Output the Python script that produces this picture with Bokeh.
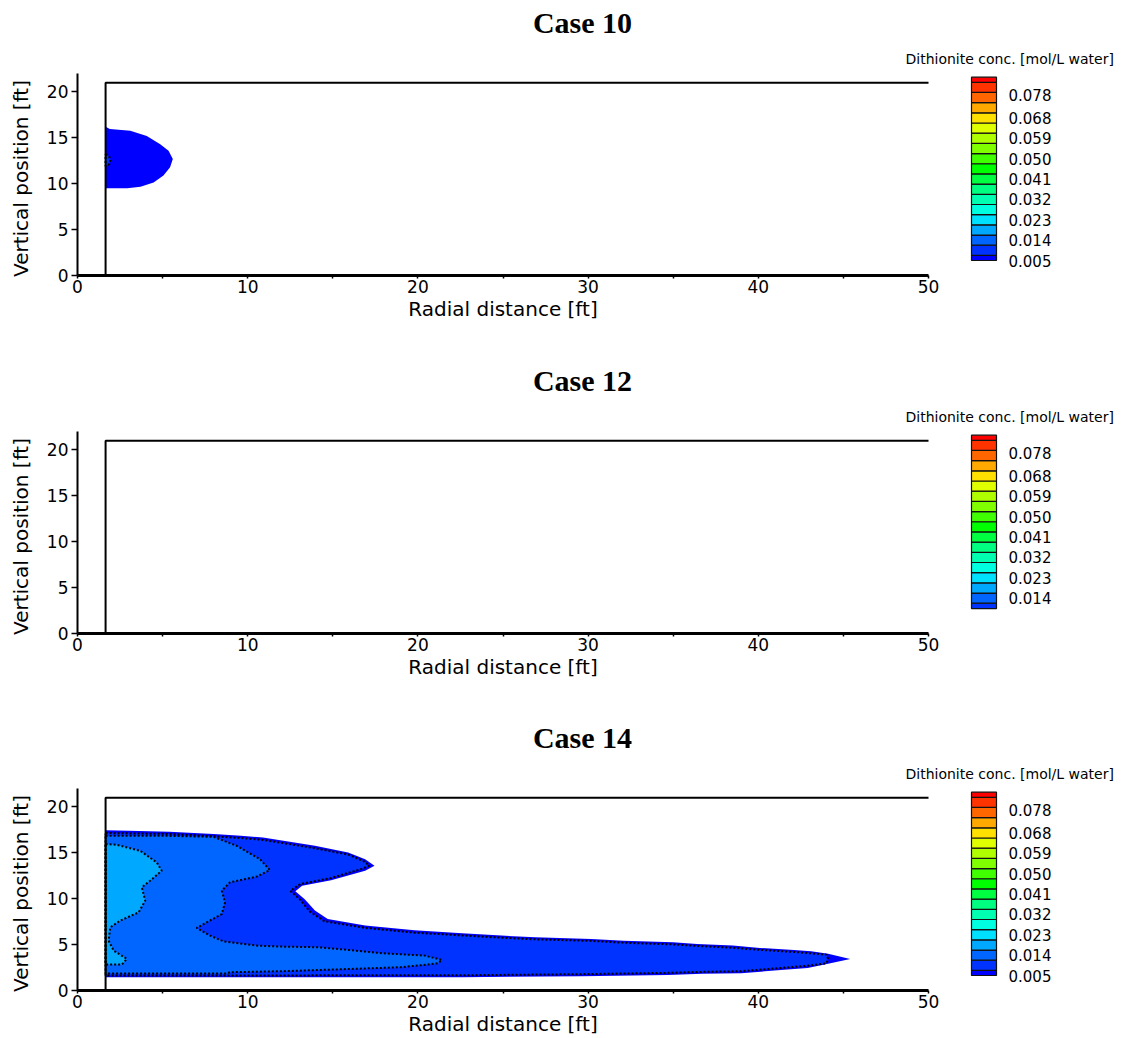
import math
from bokeh.plotting import figure
from bokeh.layouts import column
from bokeh.models import (Range1d, FixedTicker, Label, ColumnDataSource)
from bokeh.core.properties import value
from bokeh.embed import file_html
from bokeh.resources import INLINE

# ---------------- data ----------------
case_titles = ["Case 10", "Case 12", "Case 14"]
case_cmin = [0.005, 0.0094, 0.005]
case_cmax = [0.086, 0.086, 0.086]

x_label = "Radial distance [ft]"
y_label = "Vertical position [ft]"
legend_title = "Dithionite conc. [mol/L water]"
cb_labels = [0.005, 0.014, 0.023, 0.032, 0.041, 0.050, 0.059, 0.068, 0.078]
band_edges = [0.00275, 0.00725, 0.01175, 0.01625, 0.02075, 0.02525, 0.02975,
              0.03425, 0.03875, 0.04325, 0.04775, 0.05225, 0.05675, 0.06125,
              0.06575, 0.07025, 0.07475, 0.07925, 0.08375, 0.08825]
band_colors = ["#0000FF", "#0033FF", "#0066FF", "#00A8FF", "#00E0FF", "#00FFE0",
               "#00FFB0", "#00FF80", "#00FF40", "#00FF00", "#40FF00", "#80FF00",
               "#B0FF00", "#E0FF00", "#FFE000", "#FFA800", "#FF6600", "#FF3300",
               "#FF0000"]

x_ticks = [0, 10, 20, 30, 40, 50]
x_minor_ticks = [5, 15, 25, 35, 45]
y_ticks = [0, 5, 10, 15, 20]
y_axis_top = 22.0
r_well = 1.65
domain_top = 21.0
x_max = 50.0

# Case 10 plume
c10_band0_x = [1.65, 1.9, 3.1, 4.07, 4.86, 5.35, 5.6, 5.44, 5.05, 4.47, 3.7, 2.92, 1.65]
c10_band0_y = [16.2, 15.95, 15.76, 15.2, 14.3, 13.6, 12.7, 11.8, 10.9, 10.14, 9.67, 9.5, 9.5]
c10_band1_x = [1.65, 1.85, 1.95, 1.85, 1.65]
c10_band1_y = [13.2, 13.0, 12.6, 12.1, 11.9]

# Case 14 plume
c14_band0_x = [1.65, 3.0, 5.4, 8.0, 9.6, 10.9, 12.1, 13.95, 15.9, 16.9, 17.45, 16.9,
               14.9, 13.2, 12.8, 13.35, 13.95, 14.7, 16.9, 19.8, 22.6, 24.9, 26.9,
               30.2, 32.1, 35.0, 36.4, 38.5, 40.1, 42.1, 43.1, 44.1, 45.4, 44.1,
               42.9, 40.95, 39.0, 36.7, 34.7, 29.6, 22.6, 1.65]
c14_band0_y = [17.45, 17.4, 17.3, 17.05, 16.85, 16.65, 16.3, 15.76, 15.04, 14.3, 13.6,
               13.05, 12.0, 11.4, 10.8, 9.95, 8.7, 7.8, 7.07, 6.55, 6.23, 5.98, 5.8,
               5.62, 5.43, 5.25, 5.07, 4.89, 4.64, 4.42, 4.28, 3.99, 3.44, 2.9, 2.46,
               2.17, 1.88, 1.82, 1.7, 1.55, 1.45, 1.45]
c14_band1_x = [1.65, 5.4, 8.0, 9.6, 10.9, 12.1, 13.95, 15.9, 16.8, 17.15, 16.7, 14.9,
               13.1, 12.5, 13.05, 13.65, 14.5, 16.9, 19.8, 22.6, 24.9, 26.9, 30.2,
               32.1, 35.0, 36.4, 38.5, 40.1, 42.1, 43.1, 44.0, 44.1, 44.0, 42.9,
               40.95, 39.0, 36.7, 34.7, 29.6, 22.6, 1.65]
c14_band1_y = [17.15, 17.05, 16.8, 16.6, 16.4, 16.05, 15.5, 14.8, 14.1, 13.6, 13.25,
               12.25, 11.6, 10.85, 9.95, 8.6, 7.55, 6.82, 6.3, 6.0, 5.75, 5.57, 5.4,
               5.2, 5.02, 4.85, 4.66, 4.42, 4.2, 4.05, 3.9, 3.45, 2.95, 2.7, 2.4,
               2.1, 2.03, 1.92, 1.78, 1.66, 1.63]
c14_band2_x = [1.65, 5.06, 8.0, 9.35, 10.72, 11.3, 10.53, 8.96, 8.48, 8.67, 8.48, 7.0,
               7.79, 8.57, 10.5, 12.0, 14.15, 15.9, 17.86, 20.4, 21.4, 21.2, 20.6,
               19.0, 17.86, 14.5, 12.0, 8.96, 8.77, 1.65]
c14_band2_y = [16.85, 16.85, 16.74, 15.76, 14.31, 13.12, 12.4, 11.78, 10.87, 9.6, 8.33,
               6.81, 5.98, 5.36, 4.89, 4.78, 4.71, 4.42, 4.06, 3.8, 3.33, 2.97, 2.83,
               2.54, 2.46, 2.25, 2.1, 1.99, 1.85, 1.85]
c14_band3_x = [1.65, 2.32, 3.68, 4.66, 4.95, 4.27, 3.78, 3.98, 3.59, 2.51, 1.93, 1.83,
               2.12, 2.9, 2.61, 1.65]
c14_band3_y = [15.94, 15.87, 15.22, 13.95, 13.04, 11.96, 11.23, 9.78, 8.51, 7.61, 6.88,
               5.43, 4.35, 3.44, 2.83, 2.83]

case_contours = [
    [(0, c10_band0_x, c10_band0_y), (1, c10_band1_x, c10_band1_y)],
    [],
    [(0, c14_band0_x, c14_band0_y), (1, c14_band1_x, c14_band1_y),
     (2, c14_band2_x, c14_band2_y), (3, c14_band3_x, c14_band3_y)],
]

# ---------------- layout constants (pixels within one panel) ----------------
FIG_W = 1121
X0_PX, Y0_PX, Y22_PX = 77, 275, 73
panel_heights = [358, 357, 323]
px_per_ft = 17.02
py_per_ft = (Y0_PX - Y22_PX) / y_axis_top
CB_PX_LEFT, CB_PX_W = 971, 25
CB_PX_V0 = 260          # pixel row of concentration 0.005
cb_px_per_unit = 2263.0

SANS = "DejaVu Sans"


def make_panel(i):
    H = panel_heights[i]

    def sx(px):
        return (px - X0_PX) / px_per_ft

    def sy(px):
        return (Y0_PX - px) / py_per_ft

    p = figure(width=FIG_W, height=H,
               x_range=Range1d(sx(0), sx(FIG_W)), y_range=Range1d(sy(H), sy(0)),
               output_backend="svg", toolbar_location=None,
               min_border=0, min_border_left=0, min_border_right=0,
               min_border_top=0, min_border_bottom=0,
               outline_line_color=None, background_fill_color="white",
               border_fill_color="white")
    p.xgrid.visible = False
    p.ygrid.visible = False
    p.extra_x_ranges = {"cb": Range1d(-CB_PX_LEFT / CB_PX_W, (FIG_W - CB_PX_LEFT) / CB_PX_W)}
    p.extra_y_ranges = {"cb": Range1d(0.005 - (H - CB_PX_V0) / cb_px_per_unit,
                                      0.005 + CB_PX_V0 / cb_px_per_unit)}

    xa = p.xaxis[0]
    xa.fixed_location = 0
    xa.ticker = FixedTicker(ticks=x_ticks, minor_ticks=x_minor_ticks)
    xa.bounds = (0, x_max)
    xa.axis_line_width = 3
    xa.axis_line_color = "black"
    xa.major_tick_out = 3
    xa.major_tick_in = 0
    xa.minor_tick_out = 3
    xa.minor_tick_in = 0
    xa.major_tick_line_width = 1.5
    xa.minor_tick_line_width = 1.5
    xa.major_label_standoff = 1
    xa.major_label_text_font = SANS
    xa.major_label_text_font_size = "17px"
    xa.major_label_text_color = "black"

    ya = p.yaxis[0]
    ya.fixed_location = 0
    ya.ticker = FixedTicker(ticks=y_ticks, minor_ticks=[])
    ya.bounds = (0, y_axis_top)
    ya.axis_line_width = 2
    ya.axis_line_color = "black"
    ya.major_tick_out = 6
    ya.major_tick_in = 0
    ya.minor_tick_out = 0
    ya.minor_tick_in = 0
    ya.major_tick_line_width = 1.5
    ya.major_label_standoff = 3
    ya.major_label_text_font = SANS
    ya.major_label_text_font_size = "17px"
    ya.major_label_text_color = "black"

    # axis titles
    p.text(x=[x_max / 2], y=[sy(308)], text=[x_label], text_font=value(SANS),
           text_font_size="20px", text_color="black", text_align="center",
           text_baseline="middle")
    p.text(x=[sx(20)], y=[sy(178)], text=[y_label], text_font=value(SANS),
           text_font_size="20px", text_color="black", text_align="center",
           text_baseline="middle", angle=math.pi / 2)

    # contour bands
    for band, xs, ys in case_contours[i]:
        p.patch(xs, ys, fill_color=band_colors[band], line_color=None)
    for band, xs, ys in case_contours[i]:
        if band == 0:
            continue
        p.line(list(xs) + [xs[0]], list(ys) + [ys[0]], line_color="black",
               line_width=2, line_dash="2 2")

    # model domain boundary
    p.line([r_well, r_well, x_max], [0, domain_top, domain_top],
           line_color="black", line_width=2)

    # colour legend
    vmin, vmax = case_cmin[i], case_cmax[i]
    bots, tops, cols = [], [], []
    for k, c in enumerate(band_colors):
        b = max(band_edges[k], vmin)
        t = min(band_edges[k + 1], vmax)
        if t > b:
            bots.append(b)
            tops.append(t)
            cols.append(c)
    src = ColumnDataSource(dict(bottom=bots, top=tops, color=cols,
                                left=[0] * len(bots), right=[1] * len(bots)))
    p.quad(left="left", right="right", bottom="bottom", top="top", fill_color="color",
           line_color="#111111", line_width=1.2, source=src,
           x_range_name="cb", y_range_name="cb")
    shown = [v for v in cb_labels if vmin <= v <= vmax]
    p.text(x=[1.48] * len(shown), y=shown, text=["%.3f" % v for v in shown],
           text_font=value(SANS), text_font_size="15px", text_color="black",
           text_align="left", text_baseline="middle",
           x_range_name="cb", y_range_name="cb")

    p.add_layout(Label(x=sx(905), y=sy(58), text=legend_title, text_font=SANS,
                       text_font_size="14px", text_color="black", text_align="left",
                       text_baseline="middle"))
    p.add_layout(Label(x=sx(582), y=sy(22), text=case_titles[i],
                       text_font="Liberation Serif", text_font_style="bold",
                       text_font_size="30px", text_color="black",
                       text_align="center", text_baseline="middle"))
    return p


layout = column(*[make_panel(i) for i in range(3)], spacing=0)
open("out.html", "w").write(file_html(layout, INLINE))
